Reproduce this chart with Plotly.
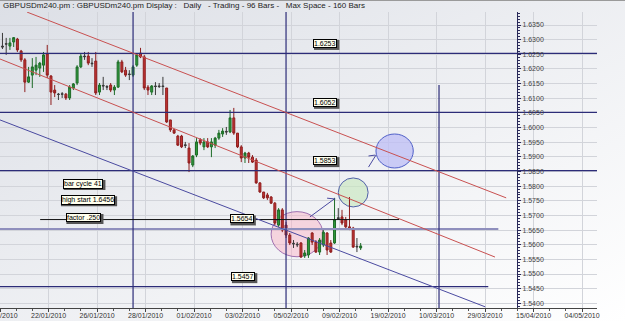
import base64
import plotly.graph_objects as go

# ---------------- data ----------------
bar_index = list(range(97))
open_ = [1.6278, 1.6286, 1.6278, 1.6292, 1.6302, 1.6261, 1.6231, 1.6155, 1.6179, 1.6196,
         1.6203, 1.6213, 1.6251, 1.6176, 1.6128, 1.6114, 1.6115, 1.6114, 1.6101, 1.6135,
         1.6152, 1.6207, 1.6244, 1.6244, 1.6220, 1.6227, 1.6121, 1.6144, 1.6140, 1.6145,
         1.6128, 1.6138, 1.6224, 1.6196, 1.6183, 1.6179, 1.6213, 1.6254, 1.6241, 1.6138,
         1.6121, 1.6142, 1.6142, 1.6142, 1.6135, 1.6026, 1.5992, 1.5971, 1.5971, 1.5941,
         1.5930, 1.5872, 1.5906, 1.5958, 1.5934, 1.5951, 1.5934, 1.5940, 1.5964, 1.5978,
         1.5987, 1.5985, 1.6033, 1.5981, 1.5934, 1.5896, 1.5913, 1.5899, 1.5889, 1.5811,
         1.5780, 1.5770, 1.5763, 1.5742, 1.5667, 1.5719, 1.5667, 1.5633, 1.5605, 1.5602,
         1.5606, 1.5562, 1.5565, 1.5640, 1.5609, 1.5575, 1.5599, 1.5640, 1.5606, 1.5606,
         1.5692, 1.5695, 1.5685, 1.5661, 1.5657, 1.5595, 1.5589]
high = [1.6323, 1.6306, 1.6306, 1.6309, 1.6306, 1.6265, 1.6237, 1.6207, 1.6237, 1.6241,
        1.6224, 1.6258, 1.6282, 1.6179, 1.6145, 1.6118, 1.6121, 1.6118, 1.6145, 1.6152,
        1.6213, 1.6254, 1.6258, 1.6258, 1.6237, 1.6258, 1.6152, 1.6173, 1.6145, 1.6152,
        1.6145, 1.6231, 1.6231, 1.6207, 1.6196, 1.6213, 1.6254, 1.6272, 1.6248, 1.6145,
        1.6145, 1.6155, 1.6152, 1.6173, 1.6135, 1.6026, 1.5995, 1.5975, 1.5975, 1.5951,
        1.5947, 1.5906, 1.5964, 1.5964, 1.5964, 1.5964, 1.5964, 1.5968, 1.5992, 1.5998,
        1.6002, 1.6060, 1.6067, 1.5981, 1.5940, 1.5917, 1.5917, 1.5906, 1.5896, 1.5814,
        1.5780, 1.5777, 1.5766, 1.5746, 1.5725, 1.5725, 1.5678, 1.5640, 1.5616, 1.5609,
        1.5609, 1.5582, 1.5626, 1.5643, 1.5616, 1.5623, 1.5650, 1.5643, 1.5616, 1.5760,
        1.5725, 1.5719, 1.5695, 1.5763, 1.5661, 1.5623, 1.5606]
low = [1.6268, 1.6248, 1.6265, 1.6275, 1.6258, 1.6224, 1.6121, 1.6152, 1.6135, 1.6179,
       1.6173, 1.6190, 1.6169, 1.6077, 1.6104, 1.6094, 1.6101, 1.6094, 1.6094, 1.6128,
       1.6145, 1.6203, 1.6231, 1.6213, 1.6207, 1.6111, 1.6111, 1.6128, 1.6128, 1.6121,
       1.6111, 1.6135, 1.6186, 1.6173, 1.6162, 1.6173, 1.6207, 1.6237, 1.6128, 1.6111,
       1.6111, 1.6111, 1.6135, 1.6111, 1.6016, 1.5985, 1.5978, 1.5937, 1.5930, 1.5930,
       1.5848, 1.5865, 1.5899, 1.5940, 1.5923, 1.5930, 1.5899, 1.5930, 1.5958, 1.5968,
       1.5975, 1.5981, 1.5975, 1.5930, 1.5882, 1.5879, 1.5879, 1.5879, 1.5808, 1.5777,
       1.5756, 1.5753, 1.5739, 1.5667, 1.5661, 1.5643, 1.5623, 1.5599, 1.5589, 1.5592,
       1.5555, 1.5555, 1.5555, 1.5599, 1.5572, 1.5565, 1.5592, 1.5565, 1.5572, 1.5603,
       1.5685, 1.5667, 1.5657, 1.5650, 1.5589, 1.5575, 1.5582]
close = [1.6275, 1.6285, 1.6289, 1.6307, 1.6265, 1.6231, 1.6155, 1.6173, 1.6207, 1.6213,
         1.6220, 1.6248, 1.6179, 1.6121, 1.6118, 1.6113, 1.6114, 1.6101, 1.6138, 1.6149,
         1.6207, 1.6244, 1.6242, 1.6220, 1.6218, 1.6118, 1.6145, 1.6142, 1.6138, 1.6128,
         1.6138, 1.6224, 1.6190, 1.6179, 1.6181, 1.6207, 1.6248, 1.6241, 1.6135, 1.6128,
         1.6142, 1.6140, 1.6140, 1.6140, 1.6019, 1.5992, 1.5981, 1.5940, 1.5934, 1.5939,
         1.5879, 1.5903, 1.5951, 1.5947, 1.5951, 1.5934, 1.5951, 1.5964, 1.5981, 1.5988,
         1.5985, 1.6033, 1.5981, 1.5934, 1.5896, 1.5913, 1.5899, 1.5882, 1.5811, 1.5780,
         1.5760, 1.5760, 1.5742, 1.5674, 1.5719, 1.5650, 1.5633, 1.5606, 1.5603, 1.5600,
         1.5558, 1.5572, 1.5623, 1.5609, 1.5575, 1.5616, 1.5643, 1.5582, 1.5575, 1.5685,
         1.5690, 1.5674, 1.5661, 1.5654, 1.5592, 1.5593, 1.5596]

tick_labels = ["18/01/2010", "22/01/2010", "26/01/2010", "28/01/2010", "01/02/2010",
               "03/02/2010", "05/02/2010", "09/02/2010", "19/02/2010", "10/03/2010",
               "29/03/2010", "15/04/2010", "04/05/2010"]
bars_per_label = 13

# level lines (price) and where they stop (bar)
level_prices = [1.6253, 1.6052, 1.5853, 1.5654, 1.5457]
level_ends = [159.4, 159.4, 159.4, 132.9, 130.2]
level_label_bars = [86.5, 86.5, 86.5, 64.1, 64.5]
# cycle verticals (bar) and their tops (price)
cycle_bars = [35, 76, 117]
cycle_tops = [1.6394, 1.6394, 1.6145]
# black line
black_line_x = [10.1, 106.3]
black_line_y = [1.5686, 1.5686]
# channel lines (start/end points)
red_upper_x = [6.6, 135.0]
red_upper_y = [1.6394, 1.5760]
red_lower_x = [-0.66, 132.0]
red_lower_y = [1.6234, 1.5558]
blue_line_x = [-0.66, 129.4]
blue_line_y = [1.6026, 1.5388]
# info boxes
info_texts = ["bar cycle 41", "high start 1.6456", "factor .250"]
info_bars = [21.6, 22.8, 21.7]
info_prices = [1.5809, 1.5754, 1.5693]
# ellipses: (bar0, bar1, price0, price1)
ellipses = [(72.0, 85.9, 1.5559, 1.5713), (90.0, 98.0, 1.5729, 1.5828), (100.1, 110.1, 1.5862, 1.5978)]
ellipse_fill = ["rgba(250,175,195,0.45)", "rgba(200,230,190,0.65)", "rgba(190,190,245,0.75)"]
ellipse_line = ["#a070b0", "#5060a8", "#5060c8"]
# arrows: list of segments (bar0, price0, bar1, price1)
arrow_segments = [(82.4, 1.5695, 88.9, 1.5756), (87.0, 1.5759, 89.2, 1.5756),
                  (98.1, 1.5865, 100.1, 1.5906), (98.1, 1.5903, 99.9, 1.5906)]

title = ("GBPUSDm240.pm : GBPUSDm240.pm Display :\u00a0\u00a0 Daily \u00a0\u00a0- Trading - 96 Bars -"
         "\u00a0\u00a0 Max Space - 160 Bars")

# ---------------- figure ----------------
X0, X1 = -0.66, 159.34
Y0, Y1 = 1.53841, 1.63944
W, H = 625, 321
ML, MR, MT, MB = 0, 28, 12, 13
PW, PH = W - ML - MR, H - MT - MB
BAR_PER_PX = (X1 - X0) / PW
PRICE_PER_PX = (Y1 - Y0) / PH

fig = go.Figure()

groups = {"up": [], "down": [], "flat": []}
for i, o, h, l, c in zip(bar_index, open_, high, low, close):
    if abs(c - o) <= 0.0003:
        groups["flat"].append((i, o, h, l, c))
    elif c > o:
        groups["up"].append((i, o, h, l, c))
    else:
        groups["down"].append((i, o, h, l, c))

styles = {"up": ("#1d6b27", "#2f9a3c"), "down": ("#8e1d1d", "#c23434"), "flat": ("#3a3a3a", "#555555")}
for k, rows in groups.items():
    if not rows:
        continue
    xs, os_, hs, ls, cs = zip(*rows)
    lc, fc = styles[k]
    fig.add_trace(go.Candlestick(
        x=list(xs), open=list(os_), high=list(hs), low=list(ls), close=list(cs),
        increasing=dict(line=dict(color=lc, width=1), fillcolor=fc),
        decreasing=dict(line=dict(color=lc, width=1), fillcolor=fc),
        whiskerwidth=0, showlegend=False, hoverinfo="skip"))

# level lines
for p, e in zip(level_prices, level_ends):
    if p == 1.5654:
        col, wd = "#8f8fbd", 2
    else:
        col, wd = "#2c2c78", 1.2
    fig.add_trace(go.Scatter(x=[X0, e], y=[p, p], mode="lines",
                             line=dict(color=col, width=wd), showlegend=False, hoverinfo="skip"))
# cycle verticals
for b, t in zip(cycle_bars, cycle_tops):
    fig.add_trace(go.Scatter(x=[b, b], y=[Y0, t], mode="lines",
                             line=dict(color="#2c2c78", width=1.2), showlegend=False, hoverinfo="skip"))
# black line
fig.add_trace(go.Scatter(x=black_line_x, y=black_line_y, mode="lines",
                         line=dict(color="#111111", width=1), showlegend=False, hoverinfo="skip"))
# channels
for xs, ys, col in [(red_upper_x, red_upper_y, "#c85050"), (red_lower_x, red_lower_y, "#c85050"),
                    (blue_line_x, blue_line_y, "#4a4aa0")]:
    fig.add_trace(go.Scatter(x=xs, y=ys, mode="lines", line=dict(color=col, width=1),
                             showlegend=False, hoverinfo="skip"))

shapes = []
for (b0, b1, p0, p1), fc, lc in zip(ellipses, ellipse_fill, ellipse_line):
    shapes.append(dict(type="circle", xref="x", yref="y", x0=b0, x1=b1, y0=p0, y1=p1,
                       fillcolor=fc, line=dict(color=lc, width=1), layer="between"))
for (b0, p0, b1, p1) in arrow_segments:
    shapes.append(dict(type="line", xref="x", yref="y", x0=b0, y0=p0, x1=b1, y1=p1,
                       line=dict(color="#4a4aa0", width=1)))
# top border
shapes.append(dict(type="line", xref="paper", yref="paper", x0=0, x1=W / PW,
                   y0=1 + (MT - 0.5) / PH, y1=1 + (MT - 0.5) / PH, line=dict(color="#9a9a9a", width=1)))

# approximate glyph widths (em) for the label shadows
CW = {"0": .556, "1": .556, "2": .556, "3": .556, "4": .556, "5": .556, "6": .556, "7": .556,
      "8": .556, "9": .556, ".": .278, " ": .278, "a": .556, "b": .556, "c": .5, "e": .556,
      "f": .278, "g": .556, "h": .556, "i": .222, "l": .222, "o": .556, "r": .333, "s": .5,
      "t": .278, "y": .5}
FS = 7
annotations = []


def boxed(text, x, y, yshift=0):
    w = sum(CW.get(ch, .55) for ch in text) * FS + 4
    h = 10
    cx = x + 1.5 * BAR_PER_PX
    cy = y + (yshift - 1.5) * PRICE_PER_PX
    shapes.append(dict(type="rect", xref="x", yref="y",
                       x0=cx - w / 2 * BAR_PER_PX, x1=cx + w / 2 * BAR_PER_PX,
                       y0=cy - h / 2 * PRICE_PER_PX, y1=cy + h / 2 * PRICE_PER_PX,
                       fillcolor="#555555", line=dict(width=0), layer="above"))
    annotations.append(dict(text=text, x=x, y=y, xref="x", yref="y", showarrow=False,
                            font=dict(size=FS, color="#000000", family="Liberation Sans"),
                            bgcolor="#ffffee", bordercolor="#000000", borderwidth=1, borderpad=0,
                            yshift=yshift))


for p, b in zip(level_prices, level_label_bars):
    boxed(f"{p:.4f}", b, p, yshift=10)
for t, b, p in zip(info_texts, info_bars, info_prices):
    boxed(t, b, p)

annotations.append(dict(text=title, xref="paper", yref="paper", x=0.002, y=1 + (MT - 5.5) / PH,
                        xanchor="left", yanchor="middle", showarrow=False,
                        font=dict(size=8, color="#222222", family="Liberation Sans")))

svg = (f"<svg xmlns='http://www.w3.org/2000/svg' width='{W}' height='{H}'>"
       "<defs><linearGradient id='g' x1='0' y1='0' x2='1' y2='1'>"
       "<stop offset='0' stop-color='#dcdfe6'/><stop offset='1' stop-color='#ffffff'/>"
       "</linearGradient></defs>"
       f"<rect width='{W}' height='{H}' fill='url(#g)'/></svg>")
src = "data:image/svg+xml;base64," + base64.b64encode(svg.encode()).decode()

tickvals = [X0 + 0.01 + bars_per_label * k for k in range(len(tick_labels))]

fig.update_layout(
    width=W, height=H,
    margin=dict(l=ML, r=MR, t=MT, b=MB, pad=0, autoexpand=False),
    paper_bgcolor="#ffffff", plot_bgcolor="rgba(0,0,0,0)",
    font=dict(family="Liberation Sans", size=7, color="#333333"),
    showlegend=False,
    boxgap=0.25,
    images=[dict(source=src, xref="paper", yref="paper", x=0, y=1 + MT / PH,
                 sizex=W / PW, sizey=H / PH, xanchor="left", yanchor="top",
                 sizing="stretch", layer="below")],
    shapes=shapes,
    annotations=annotations,
    xaxis=dict(range=[X0, X1], tickmode="array", tickvals=tickvals, ticktext=tick_labels,
               automargin=False,
               showgrid=True, gridcolor="#d2d4da", gridwidth=1, zeroline=False,
               showline=True, linecolor="#444444", linewidth=1,
               ticks="outside", ticklen=3, tickcolor="#444444", ticklabelstandoff=-2,
               ticklabeloverflow="allow",
               minor=dict(tickmode="linear", tick0=X0, dtick=bars_per_label / 3,
                          ticks="outside", ticklen=2, tickcolor="#555555", showgrid=False),
               tickfont=dict(size=7, color="#333333"),
               rangeslider=dict(visible=False), fixedrange=True),
    yaxis=dict(range=[Y0, Y1], tick0=1.54, dtick=0.005, tickformat=".4f",
               side="right", anchor="free", position=517 / PW, automargin=False,
               showgrid=True, gridcolor="#d2d4da", gridwidth=1, zeroline=False,
               showline=True, linecolor="#2a2a5a", linewidth=1,
               ticks="outside", ticklen=3, tickcolor="#2a2a5a",
               minor=dict(dtick=0.001, ticks="outside", ticklen=2, tickcolor="#2a2a5a", showgrid=False),
               tickfont=dict(size=7, color="#444444"), fixedrange=True),
)

fig.write_html("out.html")
